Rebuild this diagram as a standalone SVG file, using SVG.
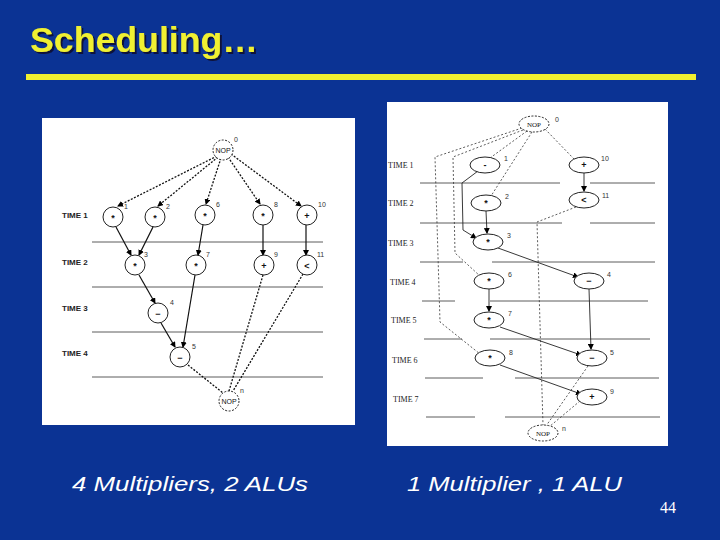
<svg xmlns="http://www.w3.org/2000/svg" width="720" height="540" viewBox="0 0 720 540">
<defs>
<marker id="a" markerWidth="6" markerHeight="6" refX="5" refY="3" orient="auto" markerUnits="userSpaceOnUse"><path d="M0,0 L6,3 L0,6 z" fill="#000"/></marker>
<filter id="sh" x="-5%" y="-20%" width="115%" height="150%"><feDropShadow dx="2" dy="2" stdDeviation="0.6" flood-color="#101030" flood-opacity="0.9"/></filter>
<style>
.t{font-family:"Liberation Sans",Arial,sans-serif;font-size:8px;font-weight:bold;fill:#222}
.rt{font-family:"Liberation Serif",serif;font-size:8px;fill:#222}
.n{fill:#fff;stroke:#222;stroke-width:1}
.nd{fill:#fff;stroke:#222;stroke-width:1;stroke-dasharray:2,1.5}
.op{font-family:"Liberation Sans",Arial,sans-serif;font-size:9px;font-weight:bold;text-anchor:middle;fill:#111}
.nop{font-family:"Liberation Sans",Arial,sans-serif;font-size:7px;text-anchor:middle;fill:#111}
.rnop{font-family:"Liberation Serif",serif;font-size:7px;text-anchor:middle;fill:#111}
.num{font-family:"Liberation Sans",Arial,sans-serif;font-size:7px;fill:#333}
.hl{stroke:#333;stroke-width:0.8}
.e{stroke:#111;stroke-width:1.2;fill:none}
.ed{stroke:#111;stroke-width:1.3;fill:none;stroke-dasharray:2,1.5}
.re{stroke:#222;stroke-width:0.9;fill:none}
.rd{stroke:#333;stroke-width:0.8;fill:none;stroke-dasharray:2,2}
.cap{font-family:"Liberation Sans",Arial,sans-serif;font-size:21px;font-style:italic;fill:#fff}
</style>
</defs>
<rect width="720" height="540" fill="#0b3394"/>
<text x="30" y="52" font-family="Liberation Sans,Arial,sans-serif" font-size="35" font-weight="bold" fill="#f0f030" filter="url(#sh)" textLength="228" lengthAdjust="spacingAndGlyphs">Scheduling…</text>
<rect x="26" y="74" width="670" height="6" fill="#f0f030"/>

<!-- Left picture -->
<rect x="42" y="118" width="313" height="307" fill="#fff"/>
<g id="left-grid">
<line class="hl" x1="92" y1="242" x2="323" y2="242"/>
<line class="hl" x1="92" y1="287" x2="323" y2="287"/>
<line class="hl" x1="92" y1="332" x2="323" y2="332"/>
<line class="hl" x1="92" y1="377" x2="323" y2="377" stroke-width="1.5"/>
<text class="t" x="62" y="218">TIME 1</text>
<text class="t" x="62" y="265">TIME 2</text>
<text class="t" x="62" y="311">TIME 3</text>
<text class="t" x="62" y="356">TIME 4</text>
</g>
<g id="left-edges">
<line class="ed" x1="217" y1="156" x2="118" y2="206" marker-end="url(#a)"/>
<line class="ed" x1="218" y1="157" x2="158" y2="206" marker-end="url(#a)"/>
<line class="ed" x1="221" y1="158" x2="206" y2="204" marker-end="url(#a)"/>
<line class="ed" x1="228" y1="157" x2="260" y2="204" marker-end="url(#a)"/>
<line class="ed" x1="231" y1="154" x2="301" y2="206" marker-end="url(#a)"/>
<line class="e" x1="116" y1="227" x2="131" y2="255" marker-end="url(#a)"/>
<line class="e" x1="153" y1="227" x2="139" y2="255" marker-end="url(#a)"/>
<line class="e" x1="203" y1="225" x2="198" y2="255" marker-end="url(#a)"/>
<line class="e" x1="263" y1="225" x2="263" y2="255" marker-end="url(#a)" stroke="#555"/>
<line class="e" x1="306" y1="225" x2="306" y2="255" marker-end="url(#a)" stroke="#555"/>
<line class="e" x1="139" y1="275" x2="155" y2="303" marker-end="url(#a)"/>
<line class="e" x1="161" y1="323" x2="175" y2="347" marker-end="url(#a)"/>
<line class="e" x1="195" y1="275" x2="183" y2="347" marker-end="url(#a)"/>
<line class="ed" x1="188" y1="365" x2="223" y2="393"/>
<line class="ed" x1="263" y1="275" x2="229" y2="391"/>
<line class="ed" x1="303" y1="274" x2="233" y2="391"/>
</g>
<g id="l0"><circle class="nd" cx="223" cy="150" r="10"/><text class="nop" x="223" y="153">NOP</text><text class="num" x="234" y="142">0</text></g>
<g id="l1"><circle class="n" cx="113" cy="217" r="10"/><text class="op" x="113" y="221">*</text><text class="num" x="124" y="209">1</text></g>
<g id="l2"><circle class="n" cx="155" cy="217" r="10"/><text class="op" x="155" y="221">*</text><text class="num" x="166" y="209">2</text></g>
<g id="l6"><circle class="n" cx="205" cy="215" r="10"/><text class="op" x="205" y="219">*</text><text class="num" x="216" y="207">6</text></g>
<g id="l8"><circle class="n" cx="263" cy="215" r="10"/><text class="op" x="263" y="219">*</text><text class="num" x="274" y="207">8</text></g>
<g id="l10"><circle class="n" cx="307" cy="215" r="10"/><text class="op" x="307" y="219">+</text><text class="num" x="318" y="207">10</text></g>
<g id="l3"><circle class="n" cx="135" cy="265" r="10"/><text class="op" x="135" y="269">*</text><text class="num" x="144" y="257">3</text></g>
<g id="l7"><circle class="n" cx="196" cy="265" r="10"/><text class="op" x="196" y="269">*</text><text class="num" x="206" y="257">7</text></g>
<g id="l9"><circle class="n" cx="264" cy="265" r="10"/><text class="op" x="264" y="269">+</text><text class="num" x="274" y="257">9</text></g>
<g id="l11"><circle class="n" cx="307" cy="265" r="10"/><text class="op" x="307" y="269">&lt;</text><text class="num" x="317" y="257">11</text></g>
<g id="l4"><circle class="n" cx="158" cy="313" r="10"/><text class="op" x="158" y="317">−</text><text class="num" x="170" y="305">4</text></g>
<g id="l5"><circle class="n" cx="180" cy="357" r="10"/><text class="op" x="180" y="361">−</text><text class="num" x="192" y="349">5</text></g>
<g id="ln"><circle class="nd" cx="229" cy="401" r="10"/><text class="nop" x="229" y="404">NOP</text><text class="num" x="240" y="393">n</text></g>

<!-- Right picture -->
<rect x="387" y="102" width="281" height="344" fill="#fff"/>
<g id="right-grid">
<line class="hl" x1="420" y1="183" x2="560" y2="183"/><line class="hl" x1="590" y1="183" x2="655" y2="183"/>
<line class="hl" x1="420" y1="223" x2="562" y2="223"/><line class="hl" x1="590" y1="223" x2="655" y2="223"/>
<line class="hl" x1="420" y1="262" x2="463" y2="262"/><line class="hl" x1="492" y1="262" x2="655" y2="262"/>
<line class="hl" x1="422" y1="301" x2="455" y2="301"/><line class="hl" x1="490" y1="301" x2="648" y2="301"/>
<line class="hl" x1="424" y1="339" x2="462" y2="339"/><line class="hl" x1="490" y1="339" x2="650" y2="339"/>
<line class="hl" x1="425" y1="378" x2="483" y2="378"/><line class="hl" x1="515" y1="378" x2="659" y2="378"/>
<line class="hl" x1="426" y1="417" x2="475" y2="417"/><line class="hl" x1="505" y1="417" x2="660" y2="417"/>
<text class="rt" x="388" y="168">TIME 1</text>
<text class="rt" x="388" y="206">TIME 2</text>
<text class="rt" x="388" y="246">TIME 3</text>
<text class="rt" x="390" y="285">TIME 4</text>
<text class="rt" x="391" y="323">TIME 5</text>
<text class="rt" x="392" y="363">TIME 6</text>
<text class="rt" x="393" y="402">TIME 7</text>
</g>
<g id="right-edges">
<polyline class="rd" points="522,128 435,157 440,322 480,354"/>
<polyline class="rd" points="523,130 453,157 455,253 480,276"/>
<line class="rd" x1="527" y1="131" x2="490" y2="158"/>
<line class="rd" x1="532" y1="132" x2="491" y2="196"/>
<line class="rd" x1="545" y1="129" x2="574" y2="159"/>
<polyline class="re" points="478,171 462,183 463,230 476,238" marker-end="url(#a)"/>
<line class="re" x1="486" y1="211" x2="487" y2="233" marker-end="url(#a)"/>
<line class="re" x1="584" y1="173" x2="584" y2="191" marker-end="url(#a)"/>
<line class="re" x1="498" y1="248" x2="578" y2="277" marker-end="url(#a)"/>
<line class="re" x1="489" y1="289" x2="489" y2="311" marker-end="url(#a)"/>
<line class="re" x1="500" y1="327" x2="581" y2="355" marker-end="url(#a)"/>
<line class="re" x1="589" y1="289" x2="591" y2="349" marker-end="url(#a)"/>
<line class="re" x1="500" y1="365" x2="581" y2="394" marker-end="url(#a)"/>
<polyline class="rd" points="576,207 537,222 543,425"/>
<line class="rd" x1="588" y1="366" x2="546" y2="426"/>
<line class="rd" x1="580" y1="401" x2="549" y2="427"/>
</g>
<g id="r0"><ellipse class="nd" cx="534" cy="124" rx="15" ry="8"/><text class="rnop" x="534" y="127">NOP</text><text class="num" x="555" y="122">0</text></g>
<g id="r1"><ellipse class="n" cx="485" cy="165" rx="15" ry="8"/><text class="op" x="485" y="168">-</text><text class="num" x="504" y="161">1</text></g>
<g id="r10"><ellipse class="n" cx="584" cy="165" rx="15" ry="8"/><text class="op" x="584" y="168">+</text><text class="num" x="601" y="161">10</text></g>
<g id="r2"><ellipse class="n" cx="486" cy="203" rx="15" ry="8"/><text class="op" x="486" y="206">*</text><text class="num" x="505" y="199">2</text></g>
<g id="r11"><ellipse class="n" cx="584" cy="200" rx="15" ry="8"/><text class="op" x="584" y="203">&lt;</text><text class="num" x="602" y="198">11</text></g>
<g id="r3"><ellipse class="n" cx="488" cy="242" rx="15" ry="8"/><text class="op" x="488" y="245">*</text><text class="num" x="507" y="238">3</text></g>
<g id="r6"><ellipse class="n" cx="489" cy="281" rx="15" ry="8"/><text class="op" x="489" y="284">*</text><text class="num" x="508" y="277">6</text></g>
<g id="r4"><ellipse class="n" cx="589" cy="281" rx="15" ry="8"/><text class="op" x="589" y="284">−</text><text class="num" x="607" y="277">4</text></g>
<g id="r7"><ellipse class="n" cx="489" cy="320" rx="15" ry="8"/><text class="op" x="489" y="323">*</text><text class="num" x="508" y="316">7</text></g>
<g id="r8"><ellipse class="n" cx="490" cy="358" rx="15" ry="8"/><text class="op" x="490" y="361">*</text><text class="num" x="509" y="355">8</text></g>
<g id="r5"><ellipse class="n" cx="592" cy="358" rx="15" ry="8"/><text class="op" x="592" y="361">−</text><text class="num" x="610" y="355">5</text></g>
<g id="r9"><ellipse class="n" cx="592" cy="397" rx="15" ry="8"/><text class="op" x="592" y="400">+</text><text class="num" x="610" y="394">9</text></g>
<g id="rn"><ellipse class="nd" cx="543" cy="433" rx="15" ry="8"/><text class="rnop" x="543" y="436">NOP</text><text class="num" x="562" y="431">n</text></g>

<text class="cap" x="72" y="491" textLength="236" lengthAdjust="spacingAndGlyphs">4 Multipliers, 2 ALUs</text>
<text class="cap" x="407" y="491" textLength="215" lengthAdjust="spacingAndGlyphs">1 Multiplier , 1 ALU</text>
<text x="660" y="513" font-family="Liberation Serif,serif" font-size="16" fill="#fff">44</text>
</svg>
